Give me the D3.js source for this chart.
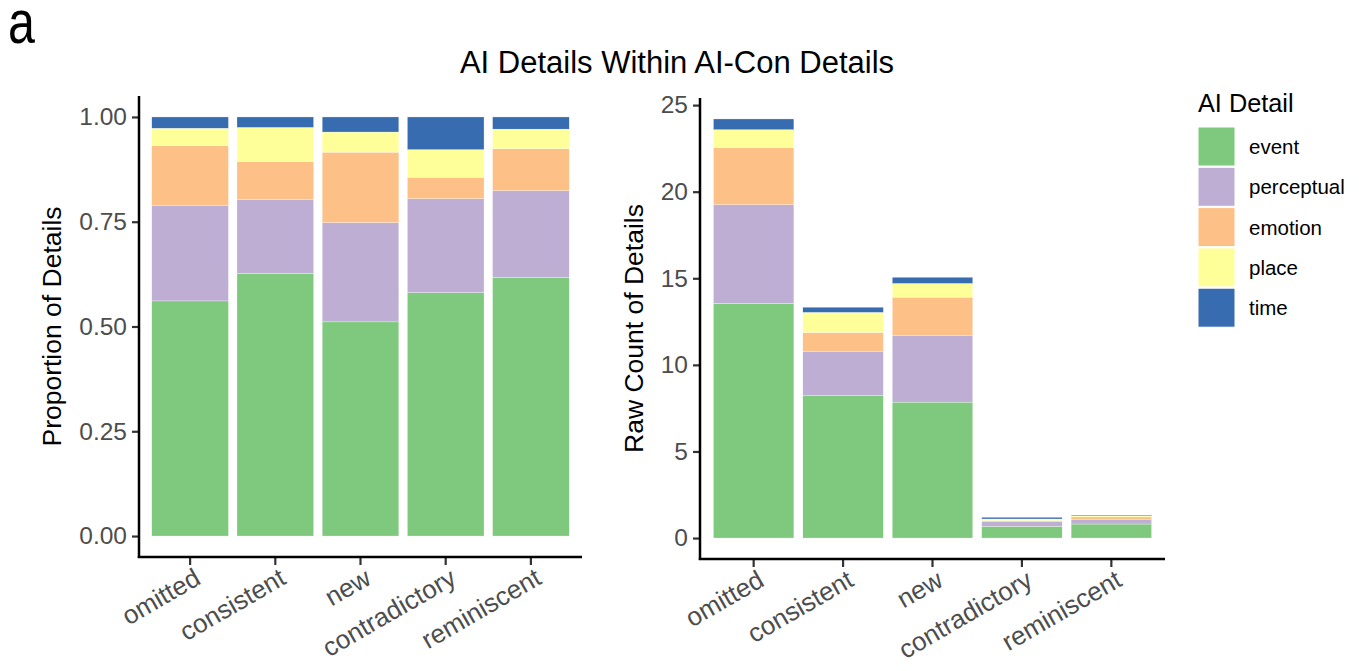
<!DOCTYPE html>
<html>
<head>
<meta charset="utf-8">
<script src="https://cdn.jsdelivr.net/npm/d3@7"></script>
<style>
  body { margin: 0; background: #fff; }
  svg text { font-family: "Liberation Sans", Arial, sans-serif; }
</style>
</head>
<body>
<div id="chart"></div>
<script>
// categories and detail types
var categories = ["omitted", "consistent", "new", "contradictory", "reminiscent"];
var details = ["event", "perceptual", "emotion", "place", "time"];

// proportion of details (left panel)
var propEvent      = [0.561, 0.627, 0.511, 0.581, 0.617];
var propPerceptual = [0.227, 0.176, 0.237, 0.224, 0.207];
var propEmotion    = [0.143, 0.090, 0.168, 0.051, 0.100];
var propPlace      = [0.042, 0.082, 0.048, 0.066, 0.047];
var propTime       = [0.027, 0.025, 0.036, 0.078, 0.029];

// raw counts (right panel)
var countEvent      = [13.55, 8.25, 7.85, 0.68, 0.81];
var countPerceptual = [5.70, 2.54, 3.86, 0.26, 0.28];
var countEmotion    = [3.28, 1.08, 2.20, 0.06, 0.13];
var countPlace      = [1.05, 1.16, 0.79, 0.10, 0.06];
var countTime       = [0.62, 0.30, 0.36, 0.10, 0.05];

var propTicks = [0, 0.25, 0.5, 0.75, 1];
var countTicks = [0, 5, 10, 15, 20, 25];

var colors = ["#7fc97f", "#beaed4", "#fdc086", "#ffff99", "#386cb0"];
var color = d3.scaleOrdinal().domain(details).range(colors);

function toRows(series) {
  return categories.map(function(c, i) {
    var row = {cat: c};
    details.forEach(function(d, j) { row[d] = series[j][i]; });
    return row;
  });
}

var propRows = toRows([propEvent, propPerceptual, propEmotion, propPlace, propTime]);
var countRows = toRows([countEvent, countPerceptual, countEmotion, countPlace, countTime]);

var svg = d3.select("#chart").append("svg")
    .attr("width", 1359)
    .attr("height", 671);

// panel tag and title
svg.append("text")
    .attr("transform", "translate(8,43) scale(0.78,1)")
    .style("font-size", "62px")
    .attr("fill", "#000")
    .text("a");

svg.append("text")
    .attr("x", 677).attr("y", 73)
    .attr("text-anchor", "middle")
    .style("font-size", "31px")
    .attr("fill", "#000")
    .text("AI Details Within AI-Con Details");

function panel(rows, ticks, fmt, x0, x1, yTop, yBot, yMax, label, labelX) {
  var x = d3.scaleBand()
      .domain(categories)
      .range([x0, x1])
      .paddingInner(0.1)
      .paddingOuter(0.15);

  var pad = yMax * 0.05;
  var y = d3.scaleLinear()
      .domain([-pad, yMax + pad])
      .range([yBot, yTop]);

  var stacked = d3.stack().keys(details)(rows);

  var g = svg.append("g");

  g.selectAll(".layer")
      .data(stacked)
    .enter().append("g")
      .attr("fill", function(d) { return color(d.key); })
    .selectAll("rect")
      .data(function(d) { return d; })
    .enter().append("rect")
      .attr("x", function(d) { return x(d.data.cat); })
      .attr("width", x.bandwidth())
      .attr("y", function(d) { return y(d[1]); })
      .attr("height", function(d) { return y(d[0]) - y(d[1]); })
      .attr("stroke", "#ffffff")
      .attr("stroke-width", 0.3);

  // y axis
  var ya = g.append("g")
      .attr("transform", "translate(" + x0 + ",0)")
      .call(d3.axisLeft(y).tickValues(ticks).tickFormat(fmt).tickSize(7).tickPadding(5));
  ya.select(".domain").remove();
  ya.selectAll(".tick line").attr("stroke", "#333").attr("stroke-width", 2.2);
  ya.selectAll(".tick text")
      .style("font-size", "24.5px")
      .attr("fill", "#4d4d4d");
  g.append("line")
      .attr("x1", x0).attr("x2", x0)
      .attr("y1", yTop).attr("y2", yBot + 1)
      .attr("stroke", "#000").attr("stroke-width", 2.5);

  // x axis
  var xa = g.append("g")
      .attr("transform", "translate(0," + yBot + ")")
      .call(d3.axisBottom(x).tickSize(8).tickSizeOuter(0));
  xa.select(".domain").remove();
  xa.selectAll(".tick line").attr("stroke", "#333").attr("stroke-width", 2.2);
  xa.selectAll(".tick text")
      .style("font-size", "26px")
      .attr("fill", "#4d4d4d")
      .attr("text-anchor", "end")
      .attr("y", 0)
      .attr("dy", "0.71em")
      .attr("transform", "translate(3,10) rotate(-30)");
  g.append("line")
      .attr("x1", x0 - 1.2).attr("x2", x1)
      .attr("y1", yBot).attr("y2", yBot)
      .attr("stroke", "#000").attr("stroke-width", 2.5);

  g.append("text")
      .attr("transform", "translate(" + labelX + "," + ((yTop + yBot) / 2) + ") rotate(-90)")
      .attr("text-anchor", "middle")
      .style("font-size", "26.5px")
      .attr("fill", "#000")
      .text(label);
}

panel(propRows, propTicks, d3.format(".2f"), 139, 582, 96, 557, 1,
      "Proportion of Details", 61);
panel(countRows, countTicks, d3.format("d"), 700, 1165, 98, 559,
      d3.max(countRows, function(r) { return d3.sum(details, function(d) { return r[d]; }); }),
      "Raw Count of Details", 643);

// legend
var legend = svg.append("g").attr("transform", "translate(1198,0)");
legend.append("text")
    .attr("x", 0).attr("y", 112)
    .style("font-size", "25.3px")
    .attr("fill", "#000")
    .text("AI Detail");

var item = legend.selectAll(".item")
    .data(details)
  .enter().append("g")
    .attr("transform", function(d, i) { return "translate(0," + (127 + i * 40.3) + ")"; });

item.append("rect")
    .attr("x", 0).attr("y", 0)
    .attr("width", 37).attr("height", 39)
    .attr("fill", function(d) { return color(d); })
    .attr("stroke", "#fff").attr("stroke-width", 1);

item.append("text")
    .attr("x", 51).attr("y", 20)
    .attr("dy", "0.35em")
    .style("font-size", "20.5px")
    .attr("fill", "#000")
    .text(function(d) { return d; });
</script>
</body>
</html>
